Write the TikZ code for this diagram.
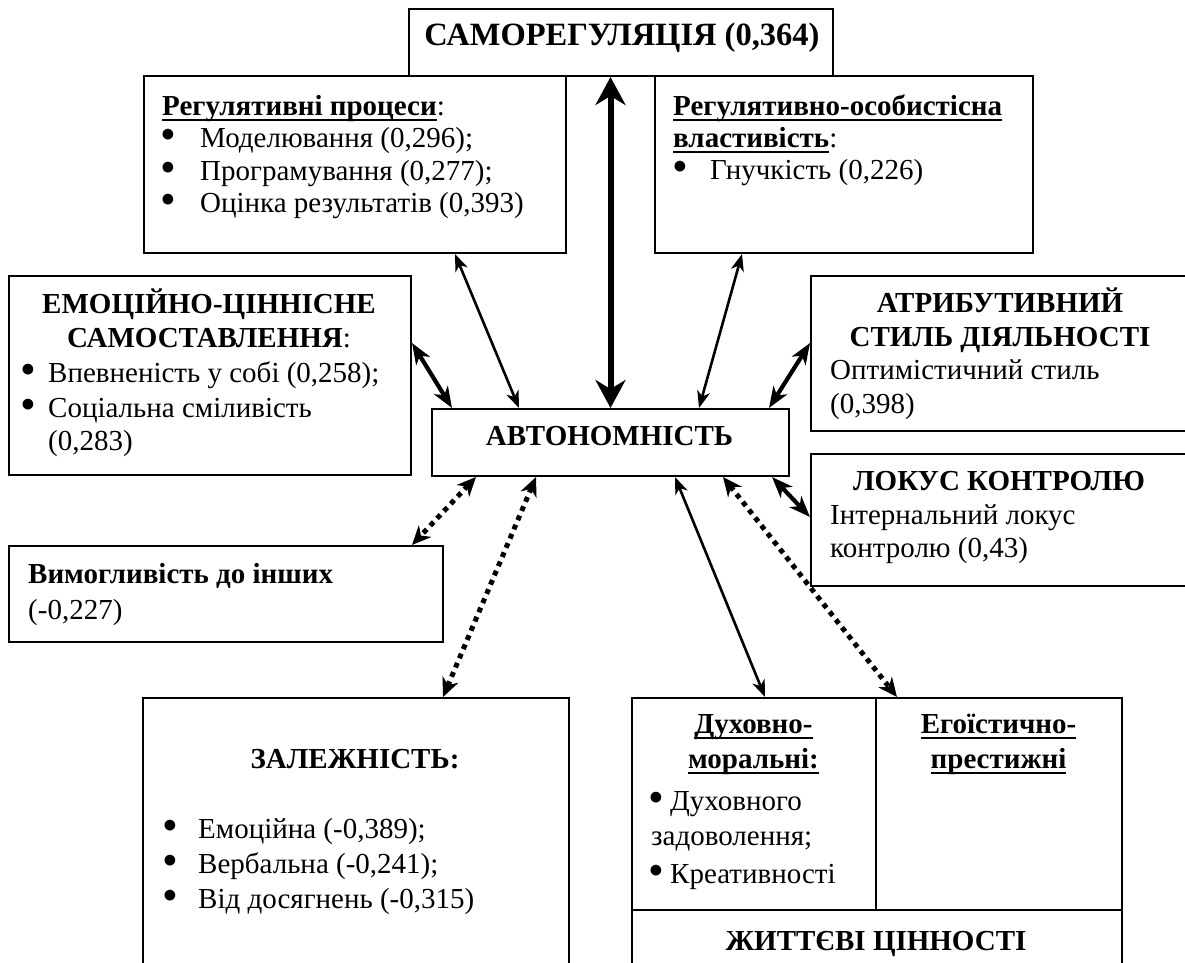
\documentclass[tikz,border=0pt]{standalone}
\usepackage{fontspec}
\setmainfont{Liberation Serif}
\usetikzlibrary{arrows.meta}
\newcommand\myfs{\fontsize{29}{33}\selectfont}
\newcommand\mybigfs{\fontsize{32.5}{36}\selectfont}
\newcommand\myul[1]{\setbox0\hbox{#1}\rlap{\rule[-6pt]{\wd0}{2pt}}\box0}
\newcommand\mydot{\smash{\raisebox{-2.5pt}{\scalebox{1.55}{\textbullet}}}}
\newcommand\mybul[1]{\makebox[#1][l]{\mydot}}
\tikzset{
  box/.style={draw, line width=2pt, anchor=north west, inner sep=0pt},
  txt/.style={inner sep=0pt, font=\myfs},
  lt/.style={txt, anchor=base west},
  ct/.style={txt, anchor=base},
  thinarr/.style={line width=2.6pt, >={Stealth[length=17pt,width=13pt,inset=5pt]}, <->},
  medarr/.style={line width=4.2pt, >={Stealth[length=21pt,width=16pt,inset=6pt]}, <->},
  bigarr/.style={line width=6pt, >={Stealth[length=28pt,width=30pt,inset=9pt]}, <->},
  dotarr/.style={line width=5pt, dash pattern=on 5pt off 5pt, >={Stealth[length=19pt,width=17pt,inset=6pt]}, <->}
}
\begin{document}
\begin{tikzpicture}[x=1pt,y=-1pt]
\useasboundingbox (0,0) rectangle (1185,962);
\clip (0,0) rectangle (1185,962);
% boxes
\node[box, minimum width=424pt, minimum height=67pt] (samoreg) at (408,8) {};
\node[box, minimum width=422pt, minimum height=177pt, fill=white] (reg1) at (143,75) {};
\node[box, minimum width=378pt, minimum height=177pt, fill=white] (reg2) at (654,75) {};
\node[box, minimum width=402pt, minimum height=199pt] (emo) at (8,275) {};
\node[box, minimum width=357pt, minimum height=67pt] (auto) at (431,408) {};
\node[box, minimum width=382pt, minimum height=155pt] (atr) at (810,275) {};
\node[box, minimum width=382pt, minimum height=132pt] (lok) at (810,453) {};
\node[box, minimum width=434pt, minimum height=96pt] (vym) at (8,545) {};
\node[box, minimum width=426pt, minimum height=290pt] (zal) at (142,697) {};
\node[box, minimum width=490pt, minimum height=290pt] (vals) at (631,697) {};
\draw[line width=2pt] ([xshift=245pt]vals.north west) -- ([xshift=245pt,yshift=-213pt]vals.north west);
\draw[line width=2pt] ([yshift=-213pt]vals.north west) -- ([yshift=-213pt]vals.north east);
% texts
\node[ct, font=\mybigfs] (t1) at (622,45) {\textbf{САМОРЕГУЛЯЦІЯ (0,364)}};
\node[lt] (r1a) at (162,115) {\myul{\textbf{Регулятивні процеси}}:};
\node[lt] (r1b) at (160,147) {\mybul{40pt}Моделювання (0,296);};
\node[lt] (r1c) at (160,180) {\mybul{40pt}Програмування (0,277);};
\node[lt] (r1d) at (160,212) {\mybul{40pt}Оцінка результатів (0,393)};
\node[lt] (r2a) at (673,115) {\myul{\textbf{Регулятивно-особистісна}}};
\node[lt] (r2b) at (673,147) {\myul{\textbf{властивість}}:};
\node[lt] (r2c) at (672,179) {\mybul{38pt}Гнучкість (0,226)};
\node[ct] (e1) at (209,313) {\textbf{ЕМОЦІЙНО-ЦІННІСНЕ}};
\node[ct] (e2) at (209,347) {\textbf{САМОСТАВЛЕННЯ}:};
\node[lt] (e3) at (20,382) {\mybul{28pt}Впевненість у собі (0,258);};
\node[lt] (e4) at (20,417) {\mybul{28pt}Соціальна сміливість};
\node[lt] (e5) at (48,450) {(0,283)};
\node[ct] (a1) at (609.5,445) {\textbf{АВТОНОМНІСТЬ}};
\node[ct] (s1) at (1000,312) {\textbf{АТРИБУТИВНИЙ}};
\node[ct] (s2) at (1000,346) {\textbf{СТИЛЬ ДІЯЛЬНОСТІ}};
\node[lt] (s3) at (830,379) {Оптимістичний стиль};
\node[lt] (s4) at (830,413) {(0,398)};
\node[ct] (l1) at (999,490) {\textbf{ЛОКУС КОНТРОЛЮ}};
\node[lt] (l2) at (830,524) {Інтернальний локус};
\node[lt] (l3) at (830,557) {контролю (0,43)};
\node[lt] (v1) at (28,583) {\textbf{Вимогливість до інших}};
\node[lt] (v2) at (28,619) {(-0,227)};
\node[ct] (z1) at (355,768) {\textbf{ЗАЛЕЖНІСТЬ:}};
\node[lt] (z2) at (162,838) {\mybul{36pt}Емоційна (-0,389);};
\node[lt] (z3) at (162,873) {\mybul{36pt}Вербальна (-0,241);};
\node[lt] (z4) at (162,908) {\mybul{36pt}Від досягнень (-0,315)};
\node[ct] (d1) at (753.5,733) {\myul{\textbf{Духовно-}}};
\node[ct] (d2) at (753.5,768) {\myul{\textbf{моральні:}}};
\node[lt] (d3) at (648,810) {\mybul{22pt}Духовного};
\node[lt] (d4) at (651,845) {задоволення;};
\node[lt] (d5) at (648,883) {\mybul{22pt}Креативності};
\node[ct] (g1) at (998.5,733) {\myul{\textbf{Егоїстично-}}};
\node[ct] (g2) at (998.5,768) {\myul{\textbf{престижні}}};
\node[ct] (w1) at (876,950) {\textbf{ЖИТТЄВІ ЦІННОСТІ}};
% connectors
\draw[bigarr] (auto.north |- samoreg.south) -- (auto.north);
\draw[thinarr] ([xshift=312pt]reg1.south west) -- ([xshift=88pt]auto.north west);
\draw[thinarr] ([xshift=88pt]reg2.south west) -- ([xshift=268pt]auto.north west);
\draw[medarr] ([yshift=-68pt]emo.north east) -- ([xshift=21pt]auto.north west);
\draw[medarr] ([yshift=-68pt]atr.north west) -- ([xshift=-21pt]auto.north east);
\draw[medarr] ([yshift=-64pt]lok.north west) -- ([xshift=-18pt]auto.south east);
\draw[thinarr] ([xshift=244pt]auto.south west) -- ([xshift=134pt]vals.north west);
\draw[dotarr] ([xshift=292pt]auto.south west) -- ([xshift=266pt]vals.north west);
\draw[dotarr] ([xshift=45pt]auto.south west) -- ([xshift=-32pt]vym.north east);
\draw[dotarr] ([xshift=105pt]auto.south west) -- ([xshift=301pt]zal.north west);
\end{tikzpicture}
\end{document}
